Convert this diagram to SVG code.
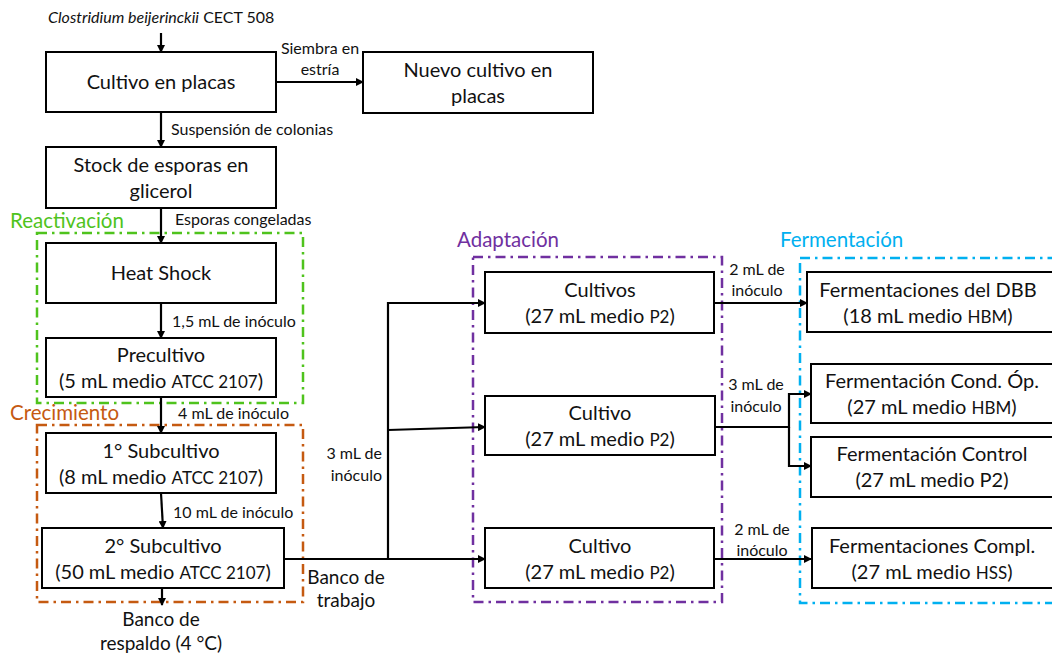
<svg xmlns="http://www.w3.org/2000/svg" width="1052" height="657" viewBox="0 0 1052 657">
<defs>
<marker id="ah" markerWidth="8" markerHeight="8" refX="7" refY="4" orient="auto" markerUnits="userSpaceOnUse">
<path d="M0,0 L8,4 L0,8 Z" fill="#000"/>
</marker>
<style>
.box{fill:#fff;stroke:#000;stroke-width:2}
.bt{font-family:Lato,"Open Sans","Liberation Sans",sans-serif;font-size:20px;fill:#111;text-anchor:middle}
.sm{font-size:17px}
.lb{font-family:Lato,"Open Sans","Liberation Sans",sans-serif;font-size:16px;fill:#111}
.bk{font-size:19px}
.ln{fill:none;stroke:#000;stroke-width:2.2}
.grp{fill:none;stroke-width:2.5;stroke-dasharray:10 5 2.5 5}
.gt{font-family:Lato,"Open Sans","Liberation Sans",sans-serif;font-size:20.5px}
</style>
</defs>
<rect width="1052" height="657" fill="#fff"/>

<g id="groups">
<rect class="grp" x="37" y="233" width="266" height="170" stroke="#4fc31d"/>
<text class="gt" x="10" y="228" fill="#4fc31d">Reactivación</text>
<rect class="grp" x="37" y="425" width="266" height="177" stroke="#c55a11"/>
<text class="gt" x="10" y="420" fill="#c55a11">Crecimiento</text>
<rect class="grp" x="473" y="257" width="249" height="345" stroke="#7030a0"/>
<text class="gt" x="457" y="247" fill="#7030a0">Adaptación</text>
<rect class="grp" x="800" y="258" width="270" height="345" stroke="#00b0f0"/>
<text class="gt" x="780" y="247" fill="#00b0f0">Fermentación</text>
</g>

<g id="connectors">
<line class="ln" x1="161" y1="33" x2="161" y2="52" marker-end="url(#ah)"/>
<line class="ln" x1="276" y1="82" x2="363" y2="82" marker-end="url(#ah)"/>
<line class="ln" x1="161" y1="112" x2="161" y2="147" marker-end="url(#ah)"/>
<line class="ln" x1="161" y1="208" x2="161" y2="243" marker-end="url(#ah)"/>
<line class="ln" x1="161" y1="303" x2="161" y2="338" marker-end="url(#ah)"/>
<line class="ln" x1="161" y1="397" x2="161" y2="433" marker-end="url(#ah)"/>
<line class="ln" x1="161" y1="493" x2="163" y2="528" marker-end="url(#ah)"/>
<line class="ln" x1="162" y1="588" x2="162" y2="605" marker-end="url(#ah)"/>
<line class="ln" x1="284" y1="559" x2="485" y2="559" marker-end="url(#ah)"/>
<polyline class="ln" points="388,559 388,303 485,303" marker-end="url(#ah)"/>
<line class="ln" x1="388" y1="430" x2="485" y2="427" marker-end="url(#ah)"/>
<line class="ln" x1="714" y1="303" x2="807" y2="303" marker-end="url(#ah)"/>
<polyline class="ln" points="715,427 789,427 789,394 811,394" marker-end="url(#ah)"/>
<polyline class="ln" points="789,427 789,466 811,466" marker-end="url(#ah)"/>
<line class="ln" x1="714" y1="559" x2="811" y2="559" marker-end="url(#ah)"/>
</g>

<g id="labels">
<text class="lb" x="48" y="23"><tspan font-style="italic">Clostridium beijerinckii</tspan> CECT 508</text>
<text class="lb" x="320" y="54" text-anchor="middle">Siembra en</text>
<text class="lb" x="320" y="75" text-anchor="middle">estría</text>
<text class="lb" x="171" y="135">Suspensión de colonias</text>
<text class="lb" x="175" y="225">Esporas congeladas</text>
<text class="lb" x="172" y="327">1,5 mL de inóculo</text>
<text class="lb" x="178" y="419">4 mL de inóculo</text>
<text class="lb" x="173" y="518">10 mL de inóculo</text>
<text class="lb bk" x="161" y="626" text-anchor="middle">Banco de</text>
<text class="lb bk" x="161" y="650" text-anchor="middle">respaldo (4 °C)</text>
<text class="lb bk" x="346" y="584" text-anchor="middle">Banco de</text>
<text class="lb bk" x="346" y="607" text-anchor="middle">trabajo</text>
<text class="lb" x="382" y="459" text-anchor="end">3 mL de</text>
<text class="lb" x="382" y="481" text-anchor="end">inóculo</text>
<text class="lb" x="757" y="275" text-anchor="middle">2 mL de</text>
<text class="lb" x="757" y="296" text-anchor="middle">inóculo</text>
<text class="lb" x="756" y="390" text-anchor="middle">3 mL de</text>
<text class="lb" x="756" y="412" text-anchor="middle">inóculo</text>
<text class="lb" x="762" y="535" text-anchor="middle">2 mL de</text>
<text class="lb" x="762" y="556" text-anchor="middle">inóculo</text>
</g>

<g id="n-cultivo-placas">
<rect class="box" x="46" y="52" width="230" height="60"/>
<text class="bt" x="161" y="89">Cultivo en placas</text>
</g>
<g id="n-nuevo-cultivo">
<rect class="box" x="363" y="52" width="230" height="61"/>
<text class="bt" x="478" y="77">Nuevo cultivo en</text>
<text class="bt" x="478" y="103">placas</text>
</g>
<g id="n-stock">
<rect class="box" x="46" y="147" width="230" height="61"/>
<text class="bt" x="161" y="172">Stock de esporas en</text>
<text class="bt" x="161" y="198">glicerol</text>
</g>
<g id="n-heat-shock">
<rect class="box" x="46" y="243" width="230" height="60"/>
<text class="bt" x="161" y="280">Heat Shock</text>
</g>
<g id="n-precultivo">
<rect class="box" x="46" y="338" width="230" height="59"/>
<text class="bt" x="161" y="362">Precultivo</text>
<text class="bt" x="161" y="388">(5 mL medio <tspan class="sm">ATCC 2107</tspan>)</text>
</g>
<g id="n-sub1">
<rect class="box" x="46" y="433" width="230" height="60"/>
<text class="bt" x="161" y="458">1° Subcultivo</text>
<text class="bt" x="161" y="484">(8 mL medio <tspan class="sm">ATCC 2107</tspan>)</text>
</g>
<g id="n-sub2">
<rect class="box" x="42" y="528" width="242" height="60"/>
<text class="bt" x="163" y="553">2° Subcultivo</text>
<text class="bt" x="163" y="579">(50 mL medio <tspan class="sm">ATCC 2107</tspan>)</text>
</g>
<g id="n-cultivos-a">
<rect class="box" x="485" y="272" width="229" height="61"/>
<text class="bt" x="600" y="297">Cultivos</text>
<text class="bt" x="600" y="323">(27 mL medio <tspan class="sm">P2</tspan>)</text>
</g>
<g id="n-cultivo-b">
<rect class="box" x="485" y="396" width="230" height="59"/>
<text class="bt" x="600" y="420">Cultivo</text>
<text class="bt" x="600" y="446">(27 mL medio <tspan class="sm">P2</tspan>)</text>
</g>
<g id="n-cultivo-c">
<rect class="box" x="485" y="528" width="229" height="60"/>
<text class="bt" x="600" y="553">Cultivo</text>
<text class="bt" x="600" y="579">(27 mL medio <tspan class="sm">P2</tspan>)</text>
</g>
<g id="n-ferm-dbb">
<rect class="box" x="807" y="272" width="260" height="60"/>
<text class="bt" x="928" y="297">Fermentaciones del DBB</text>
<text class="bt" x="928" y="323">(18 mL medio <tspan class="sm">HBM</tspan>)</text>
</g>
<g id="n-ferm-cond">
<rect class="box" x="811" y="364" width="260" height="59"/>
<text class="bt" x="932" y="388">Fermentación Cond. Óp.</text>
<text class="bt" x="932" y="414">(27 mL medio <tspan class="sm">HBM</tspan>)</text>
</g>
<g id="n-ferm-control">
<rect class="box" x="811" y="437" width="260" height="60"/>
<text class="bt" x="932" y="461">Fermentación Control</text>
<text class="bt" x="932" y="487">(27 mL medio P2)</text>
</g>
<g id="n-ferm-compl">
<rect class="box" x="812" y="528" width="260" height="60"/>
<text class="bt" x="932" y="553">Fermentaciones Compl.</text>
<text class="bt" x="932" y="579">(27 mL medio <tspan class="sm">HSS</tspan>)</text>
</g>
</svg>
